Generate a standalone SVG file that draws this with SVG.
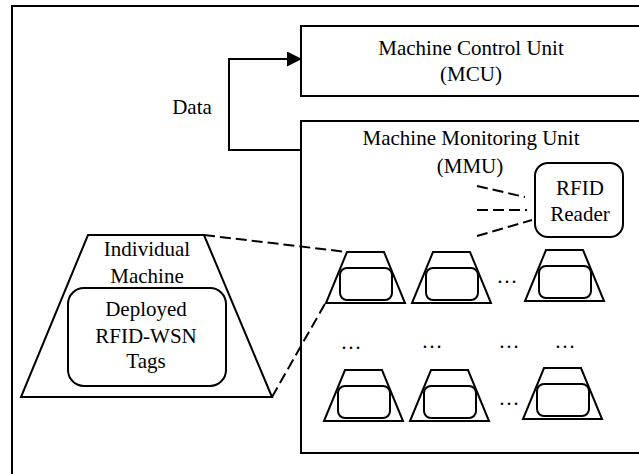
<svg xmlns="http://www.w3.org/2000/svg" width="639" height="474" viewBox="0 0 639 474">
  <style>
    .box { fill: #ffffff; stroke: #000000; stroke-width: 2; }
    .shape { fill: none; stroke: #000000; stroke-width: 2; }
    .dash { fill: none; stroke: #000000; stroke-width: 2; stroke-dasharray: 11 5; }
    .wire { fill: none; stroke: #000000; stroke-width: 2; }
    .lbl { font-family: "Liberation Serif", "Times New Roman", serif; font-size: 21px; fill: #000000; text-anchor: middle; }
  </style>
  <defs>
    <marker id="arrowhead" markerUnits="userSpaceOnUse" markerWidth="16" markerHeight="16" refX="15" refY="7.5" orient="auto">
      <path d="M0,0 L15,7.5 L0,15 Z" fill="#000000"/>
    </marker>
    <!-- small machine: trapezoid with a rounded tag box inside -->
    <g id="machine">
      <polygon class="shape" points="21,0 58,0 79,51 0,51"/>
      <rect class="shape" x="14" y="16" width="52" height="32" rx="7"/>
    </g>
  </defs>

  <rect width="639" height="474" fill="#ffffff"/>

  <!-- outer frame -->
  <rect class="shape" x="12" y="6" width="640" height="480"/>

  <g id="mcu">
    <rect class="box" x="301" y="26" width="350" height="70"/>
    <text class="lbl" x="471" y="55">Machine Control Unit</text>
    <text class="lbl" x="471" y="81">(MCU)</text>
  </g>

  <g id="mmu">
    <rect class="box" x="301" y="121" width="350" height="332"/>
    <text class="lbl" x="471" y="145">Machine Monitoring Unit</text>
    <text class="lbl" x="470" y="173">(MMU)</text>
  </g>

  <g id="rfid-reader">
    <rect class="shape" x="535" y="163" width="88" height="74" rx="13"/>
    <text class="lbl" x="580" y="195">RFID</text>
    <text class="lbl" x="580" y="221">Reader</text>
  </g>

  <g id="individual-machine">
    <polygon class="shape" points="88,235 204,235 272,397 21,397"/>
    <text class="lbl" x="147" y="256">Individual</text>
    <text class="lbl" x="147" y="283">Machine</text>
    <rect class="shape" x="68" y="288" width="158" height="98" rx="16"/>
    <text class="lbl" x="146" y="316">Deployed</text>
    <text class="lbl" x="146" y="343">RFID-WSN</text>
    <text class="lbl" x="146" y="368">Tags</text>
  </g>

  <!-- machine grid inside the monitoring unit -->
  <g id="machine-r1c1"><use href="#machine" x="326" y="252"/></g>
  <g id="machine-r1c2"><use href="#machine" x="412" y="252"/></g>
  <g id="machine-r1c3"><use href="#machine" x="525" y="250"/></g>
  <g id="machine-r2c1"><use href="#machine" x="324" y="370"/></g>
  <g id="machine-r2c2"><use href="#machine" x="410" y="370"/></g>
  <g id="machine-r2c3"><use href="#machine" x="523" y="368"/></g>

  <g id="ellipses">
    <text class="lbl" x="507" y="283">…</text>
    <text class="lbl" x="351" y="349">…</text>
    <text class="lbl" x="432" y="348">…</text>
    <text class="lbl" x="509" y="348">…</text>
    <text class="lbl" x="565" y="348">…</text>
    <text class="lbl" x="509" y="405">…</text>
  </g>

  <g id="connectors">
    <path class="wire" d="M301,150 H229 V59 H302" marker-end="url(#arrowhead)"/>
    <text class="lbl" x="192" y="114">Data</text>
    <line class="dash" x1="477" y1="186" x2="525" y2="197"/>
    <line class="dash" x1="477" y1="210" x2="527" y2="210"/>
    <line class="dash" x1="477" y1="236" x2="532" y2="220"/>
    <line class="dash" x1="204" y1="235" x2="347" y2="252"/>
    <line class="dash" x1="272" y1="397" x2="326" y2="302"/>
  </g>
</svg>
